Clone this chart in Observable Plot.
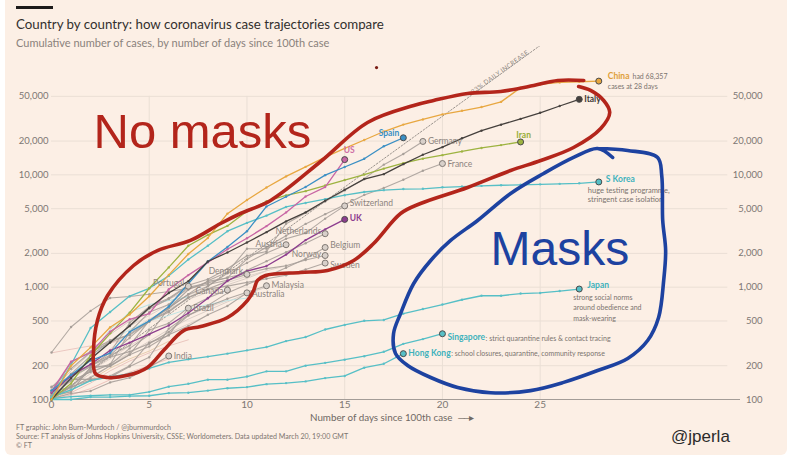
<!DOCTYPE html>
<html><head><meta charset="utf-8">
<script src="https://cdn.jsdelivr.net/npm/d3@7"></script>
<script src="https://cdn.jsdelivr.net/npm/@observablehq/plot@0.6"></script>
<style>
html,body{margin:0;padding:0;background:#fff;width:793px;height:459px;overflow:hidden;font-family:Lato,sans-serif;}
#card{position:absolute;left:5px;top:0;width:782px;height:455px;background:#fcefe5;border-radius:0 0 6px 6px;}
#bar{position:absolute;left:16px;top:6px;width:37px;height:3px;background:#1d1b1a;}
#title{position:absolute;left:16px;top:16px;font-size:13.3px;line-height:16px;color:#33302e;white-space:nowrap;}
#subtitle{position:absolute;left:16px;top:36px;font-size:11px;line-height:13px;color:#8a827c;white-space:nowrap;}
#chart{position:absolute;left:0;top:46px;}
#xlabel{position:absolute;left:310px;top:411px;font-size:9.8px;line-height:12px;color:#6f6863;white-space:nowrap;}
#footer{position:absolute;left:16px;top:423px;font-size:7.1px;line-height:9px;color:#7d7570;white-space:nowrap;}
#handle{position:absolute;left:671px;top:426px;font-family:"Liberation Sans",Arial,sans-serif;font-size:17px;line-height:22px;color:#2b2b2b;}
</style></head>
<body>
<div id="card"></div>
<div id="bar"></div>
<div id="title">Country by country: how coronavirus case trajectories compare</div>
<div id="subtitle">Cumulative number of cases, by number of days since 100th case</div>
<div id="chart"></div>
<div id="xlabel">Number of days since 100th case &nbsp;<span style="letter-spacing:-2px">——</span>&#x25B8;</div>
<div id="footer">FT graphic: John Burn-Murdoch / @jburnmurdoch<br>Source: FT analysis of Johns Hopkins University, CSSE; Worldometers. Data updated March 20, 19:00 GMT<br>© FT</div>
<div id="handle">@jperla</div>
<script>
// ---------- data (cases by day since 100th case) ----------
const yTicks = [100, 200, 500, 1000, 2000, 5000, 10000, 20000, 50000];
const xTicks = [0, 5, 10, 15, 20, 25];

const china = [100, 200, 291, 440, 571, 830, 1287, 1975, 2744, 4515, 5974, 7711, 9692, 11791, 14380, 17205, 20438, 24324, 28018, 31161, 34546, 37198, 40171, 44653, 59804, 63851, 66492, 67500, 68357];
const italy = [100, 155, 229, 322, 453, 655, 888, 1128, 1694, 2036, 2502, 3089, 3858, 4636, 5883, 7375, 9172, 10149, 12462, 15113, 17660, 21157, 24747, 27980, 31506, 35713, 41035, 47021];
const spain = [120, 165, 222, 259, 400, 500, 673, 1073, 1695, 2277, 3146, 5232, 6391, 7798, 9942, 11748, 13910, 17963, 21400];
const us = [118, 217, 262, 402, 518, 583, 959, 1281, 1663, 2179, 2726, 3499, 4632, 6421, 7786, 13677];
const germany = [130, 159, 196, 262, 482, 670, 799, 1040, 1176, 1457, 1908, 2078, 3675, 4585, 5795, 7272, 9257, 12327, 15320, 19848];
const iran = [100, 139, 245, 388, 593, 978, 1501, 2336, 2922, 3513, 4747, 5823, 6566, 7161, 8042, 9000, 10075, 11364, 12729, 13938, 14991, 16169, 17361, 18407, 19644];
const france = [100, 130, 191, 204, 285, 377, 653, 949, 1126, 1209, 1784, 2281, 2876, 3661, 4469, 5423, 6633, 7652, 9043, 10871, 12612];
const skorea = [104, 204, 433, 602, 833, 977, 1261, 1766, 2337, 3150, 3736, 4335, 5186, 5621, 6088, 6593, 7041, 7314, 7478, 7513, 7755, 7869, 7979, 8086, 8162, 8236, 8320, 8413, 8652];
const japan = [105, 122, 147, 159, 170, 189, 214, 228, 241, 256, 274, 293, 331, 360, 420, 461, 502, 511, 581, 639, 701, 773, 839, 839, 878, 889, 924, 963];
const singapore = [102, 106, 108, 110, 110, 117, 130, 138, 150, 150, 160, 178, 178, 200, 212, 226, 243, 266, 313, 345, 385];
const hongkong = [100, 100, 105, 105, 107, 108, 114, 115, 120, 126, 129, 137, 140, 145, 155, 162, 192, 208, 256];
const uk = [115, 163, 206, 273, 321, 382, 456, 590, 798, 1140, 1391, 1543, 1950, 2626, 3269, 4014];
const switzerland = [114, 214, 268, 337, 374, 491, 652, 868, 1139, 1359, 2200, 2200, 2700, 3028, 4075, 5294];
const netherlands = [128, 188, 265, 321, 382, 503, 614, 804, 959, 1135, 1413, 1705, 2051, 2460, 2994];
const austria = [104, 131, 182, 246, 302, 504, 655, 860, 1018, 1332, 1646, 2013, 2388];
const belgium = [109, 169, 200, 239, 267, 314, 399, 559, 689, 886, 1058, 1243, 1486, 1795, 2257];
const norway = [108, 147, 176, 205, 400, 598, 702, 996, 1090, 1221, 1333, 1463, 1550, 1746, 1914];
const sweden = [101, 161, 203, 248, 355, 500, 599, 814, 961, 1022, 1103, 1190, 1279, 1439, 1639];
const denmark = [262, 442, 615, 801, 827, 864, 914, 977, 1057, 1151, 1300];
const portugal = [112, 169, 245, 331, 448, 642, 785, 1020];
const malaysia = [117, 129, 149, 158, 197, 238, 428, 566, 673, 790, 900, 1030];
const canada = [108, 117, 193, 198, 252, 415, 478, 657, 800, 943];
const australia = [107, 128, 156, 200, 250, 297, 377, 452, 568, 681, 890];
const brazil = [121, 151, 151, 162, 200, 321, 372, 650];
const india = [102, 113, 119, 142, 156, 194, 244];

// unlabelled countries (faint background lines)
const other1 = [100, 130, 170, 210, 260, 320, 390, 470, 560];
const other2 = [100, 115, 140, 180, 220, 260, 300, 340];
const other3 = [105, 150, 200, 280, 400, 520, 640, 780, 900, 1050, 1200, 1400];
const other4 = [100, 120, 150, 190, 230, 270, 330];
const other5 = [110, 160, 230, 330, 450, 560, 700, 850, 980, 1100, 1250, 1400, 1550];
const other6 = [100, 110, 125, 150, 175, 200, 230];
const other7 = [120, 180, 260, 380, 500, 640, 780, 950];
const other8 = [100, 140, 180, 230, 300, 380, 470, 560, 660, 760];
const other9 = [260, 280, 300, 320, 345];
const other10 = [100, 125, 160, 200, 260, 330, 420, 520, 620, 740, 880, 1000];
const other11 = [100, 160, 250, 420, 600, 700, 760, 820];
const other12 = [100, 150, 240, 330, 420, 500, 560, 640, 700, 760, 800];

// 33% daily increase guide (end points)
const guide = [[0, 100], [25.0, 142000]];
const guideText = "33% DAILY INCREASE";
const guideTextAt = [23, 79400];

// hand-drawn annotations, in (day, cases)
const redLoop = [[27.23,69300],[25.90,69300],[24.67,62500],[22.98,55300],[21.29,53100],[19.55,45950],[18.53,41500],[16.17,29300],[13.77,13150],[11.21,5920],[9.67,4530],[8.65,3690],[7.11,2610],[5.42,2120],[4.20,1560],[2.87,843],[2.35,505],[2.15,273],[2.25,170],[2.87,157],[3.89,164],[4.91,193],[5.73,273],[6.76,411],[7.63,447],[9.01,537],[10.03,762],[10.34,935],[10.54,1148],[10.95,1271],[12.74,1352],[14.12,1409],[15.46,1729],[16.48,2449],[17.86,4530],[18.88,5560],[21.29,7720],[23.49,10940],[25.03,13430],[26.71,17540],[28.10,25900],[28.56,35950],[28.25,45950],[27.58,56450],[26.97,61250]];
const blueLoop = [[27.94,17180],[29.48,16490],[31.01,14290],[31.22,9880],[31.27,3926],[31.42,2122],[31.32,1148],[31.06,537],[30.50,335],[29.48,232],[27.94,181],[26.20,142],[24.51,120],[22.47,115],[20.78,128],[19.40,157],[18.22,201],[17.60,257],[17.50,387],[17.86,583],[18.53,1079],[19.40,1729],[20.42,2606],[21.80,3926],[23.49,6830],[25.18,10290],[26.71,14290],[27.94,17180],[28.71,14290]];
const strayDot = [[16.63, 90300]];
const noMasksText = "No masks", noMasksAt = [2.15, 17200];
const masksText = "Masks", masksAt = [22.46, 1560];

// ---------- series / styles ----------
const others = [other1, other2, other3, other4, other5, other6, other7, other8, other9, other10, other11, other12];
const otherColors = ["#dccfc6", "#e8c1b9", "#d6cbc3", "#e6c9a8", "#dcd0c8", "#ebbdb6", "#d3c8c0", "#e0d2c9", "#e9c3bc", "#d8ccc4", "#ace0e2", "#b9e3e4"];

const GREY = "#a49c96";
const TEAL = "#56bfc6";
const series = [
  ["Germany", germany, GREY], ["France", france, GREY], ["Switzerland", switzerland, GREY],
  ["Netherlands", netherlands, GREY], ["Austria", austria, GREY], ["Belgium", belgium, GREY],
  ["Norway", norway, GREY], ["Sweden", sweden, GREY], ["Denmark", denmark, GREY],
  ["Portugal", portugal, GREY], ["Malaysia", malaysia, GREY], ["Canada", canada, GREY],
  ["Australia", australia, GREY], ["Brazil", brazil, GREY], ["India", india, GREY],
  ["Hong Kong", hongkong, TEAL], ["Singapore", singapore, TEAL], ["Japan", japan, TEAL], ["S Korea", skorea, TEAL],
  ["Iran", iran, "#9db340"], ["UK", uk, "#8d3d8f"], ["US", us, "#c865a4"],
  ["Spain", spain, "#3a8fc4"], ["Italy", italy, "#45403d"], ["China", china, "#e8a740"]
];

// label settings: [name, dx, dy, textAnchor, bold, labelColor]
const labelCfg = [
  ["China", 9, -5, "start", true, "#e0a03a"], ["Italy", 5, 0, "start", true, "#3d3936"],
  ["Spain", -4, -4, "end", true, "#3a8fc4"], ["US", -1, -9, "start", true, "#cf6ea6"],
  ["Germany", 5, 0, "start", false, "#8c847e"], ["France", 5, 1, "start", false, "#8c847e"],
  ["Iran", 3, -7, "middle", true, "#97ad38"], ["S Korea", 7, -3, "start", true, "#3fb2bc"],
  ["Japan", 8, -4, "start", true, "#3fb2bc"], ["Singapore", 5, 4, "start", true, "#3fb2bc"],
  ["Hong Kong", 5, 0, "start", true, "#3fb2bc"], ["Switzerland", 5, -3, "start", false, "#8c847e"],
  ["UK", 5, -1, "start", true, "#8d3d8f"], ["Netherlands", -4, -2, "end", false, "#8c847e"],
  ["Austria", -4, 0, "end", false, "#8c847e"], ["Belgium", 5, -2, "start", false, "#8c847e"],
  ["Norway", -4, -1, "end", false, "#8c847e"], ["Sweden", 5, 2, "start", false, "#8c847e"],
  ["Denmark", -4, -3, "end", false, "#8c847e"], ["Portugal", -4, -3, "end", false, "#8c847e"],
  ["Malaysia", 5, 0, "start", false, "#8c847e"], ["Canada", -4, 1, "end", false, "#8c847e"],
  ["Australia", 5, 1, "start", false, "#8c847e"], ["Brazil", 5, 0, "start", false, "#8c847e"],
  ["India", 5, 0, "start", false, "#8c847e"]
];
// notes: [name, text, dx, dy, inline]
const notes = [
  ["China", "had 68,357", 0, -5, true],
  ["China", "cases at 28 days", 9, 5, false],
  ["Singapore", ": strict quarantine rules & contact tracing", 0, 4, true],
  ["Hong Kong", ": school closures, quarantine, community response", 0, 0, true],
  ["S Korea", "huge testing programme,\nstringent case isolation", -11, 4.5, false],
  ["Japan", "strong social norms\naround obedience and\nmask-wearing", -6, 3.5, false]
];

// ---------- build ----------
const toRows = (name, vals, color) => vals.map((v, i) => ({name, day: i, cases: v, color}));
const otherRows = others.flatMap((vals, k) => toRows("o" + k, vals, otherColors[k]));
const seriesRows = series.map(([n, v, c]) => toRows(n, v, c));
const lastOf = Object.fromEntries(seriesRows.map(r => [r[0].name, r[r.length - 1]]));
const P = a => ({day: a[0], cases: a[1]});
const fmt = d3.format(",");

const ctx = document.createElement("canvas").getContext("2d");
const tw = (t, font) => { ctx.font = font; return ctx.measureText(t).width; };

const FONT = "Lato, sans-serif";
const marks = [
  Plot.ruleY(yTicks.slice(1), {x1: 0, x2: 34.6, stroke: "#eadfd5", strokeWidth: 1}),
  Plot.ruleX(xTicks.slice(1), {y1: 100, y2: 50000, stroke: "#eadfd5", strokeWidth: 1}),
  Plot.ruleY([100], {stroke: "#a39c97", strokeWidth: 1}),
  Plot.axisX({ticks: xTicks, tickSize: 0, tickPadding: 1, fontSize: 10, label: null}),
  Plot.text(yTicks, {y: d => d, text: d => fmt(d), frameAnchor: "left", textAnchor: "end", dx: -3, fontSize: 9.5, fill: "#7d7773"}),
  Plot.text(yTicks, {y: d => d, text: d => fmt(d), frameAnchor: "right", textAnchor: "end", dx: 22, fontSize: 9.5, fill: "#7d7773"}),
  Plot.line(guide.map(P), {x: "day", y: "cases", stroke: "#8f8882", strokeWidth: 0.9, strokeDasharray: "1.6,1.8", clip: true}),
  Plot.text([P(guideTextAt)], {x: "day", y: "cases", text: () => guideText, rotate: -36, fontSize: 6.3, fill: "#8f8882", lineAnchor: "bottom", textAnchor: "middle", className: "guide-label"}),
  Plot.line(otherRows, {x: "day", y: "cases", z: "name", stroke: "color", strokeWidth: 1, strokeOpacity: 0.9})
];
for (const rows of seriesRows) {
  const hi = rows[0].color !== GREY;
  marks.push(Plot.line(rows, {x: "day", y: "cases", stroke: "color", strokeWidth: hi ? 1.3 : 1.1, strokeOpacity: hi ? 1 : 0.85}));
  marks.push(Plot.dot(rows.slice(0, -1), {x: "day", y: "cases", r: 1.2, fill: "color", fillOpacity: 0.9}));
}
for (const rows of seriesRows) {
  const last = rows[rows.length - 1];
  const hi = last.color !== GREY;
  marks.push(Plot.dot([last], {x: "day", y: "cases", r: 3, fill: hi ? last.color : "#d8d0ca", stroke: hi ? "#4a4a4a" : "#7f7873", strokeWidth: 1}));
}
for (const [name, dx, dy, anchor, bold, color] of labelCfg) {
  marks.push(Plot.text([lastOf[name]], {x: "day", y: "cases", text: () => name, dx, dy, textAnchor: anchor,
    fontSize: 8.5, fontWeight: bold ? "bold" : "normal", fill: color}));
}
for (const [name, text, ndx, ndy, inline] of notes) {
  const cfg = labelCfg.find(c => c[0] === name);
  let dx = ndx;
  if (inline) dx = cfg[1] + tw(name, `bold 8.5px ${FONT}`) + (text.startsWith(":") ? 0.5 : 3);
  marks.push(Plot.text([lastOf[name]], {x: "day", y: "cases", text: () => text, dx, dy: ndy, textAnchor: "start",
    lineAnchor: inline || name === "China" ? "middle" : "top",
    lineHeight: name === "Japan" ? 1.5 : 1.25, fontSize: name === "S Korea" ? 7.5 : 7, fill: "#7b736e"}));
}
marks.push(
  Plot.line(redLoop.map(P), {x: "day", y: "cases", stroke: "#b3251b", strokeWidth: 3.6, curve: "catmull-rom", strokeLinecap: "round", strokeLinejoin: "round"}),
  Plot.line(blueLoop.map(P), {x: "day", y: "cases", stroke: "#1d42a0", strokeWidth: 3.6, curve: "catmull-rom", strokeLinecap: "round", strokeLinejoin: "round"}),
  Plot.dot(strayDot.map(P), {x: "day", y: "cases", r: 1.6, fill: "#7a1d15"}),
  Plot.text([P(noMasksAt)], {x: "day", y: "cases", text: () => noMasksText, fontSize: 49, fontFamily: "Liberation Sans, Arial, sans-serif", fill: "#b3251b", textAnchor: "start", lineAnchor: "bottom"}),
  Plot.text([P(masksAt)], {x: "day", y: "cases", text: () => masksText, fontSize: 48, fontFamily: "Liberation Sans, Arial, sans-serif", fill: "#1d42a0", textAnchor: "start", lineAnchor: "bottom"})
);

const plot = Plot.plot({
  width: 793, height: 386,
  marginTop: 0, marginBottom: 33, marginLeft: 51, marginRight: 53,
  x: {domain: [0, 35.25]},
  y: {type: "log", domain: [100, 139000], axis: null},
  color: {type: "identity"},
  style: {background: "transparent", fontFamily: FONT, color: "#7d7773", overflow: "visible"},
  marks
});
d3.select(plot).selectAll(".guide-label text").style("letter-spacing", "0.4px");
document.getElementById("chart").appendChild(plot);
</script>
</body></html>
